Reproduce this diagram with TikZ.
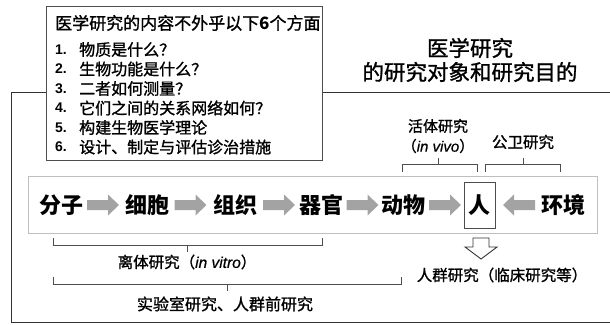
\documentclass[tikz,border=0pt]{standalone}
\usepackage{fontspec}
\newfontfamily\cjk{Noto Sans CJK SC}
\newfontfamily\cjkmed{Noto Sans CJK SC}[FakeBold=1.2]
\newfontfamily\lat{Liberation Sans}
\newfontfamily\latmed{Liberation Sans}[FakeBold=0.6]
\newfontfamily\latbold{Liberation Sans Bold}
\definecolor{arrowgray}{HTML}{A3A3A3}
\definecolor{bandgray}{HTML}{BFBFBF}
\definecolor{boxgray}{HTML}{4D4D4D}
\definecolor{linegray}{HTML}{333333}
\tikzset{
  frame/.style={draw=linegray, line width=0.9pt},
  brace/.style={draw=boxgray, line width=0.8pt},
  stage/.style={font=\cjk\bfseries\fontsize{22}{24}\selectfont, inner sep=0pt, anchor=center},
  listhead/.style={font=\cjkmed\fontsize{17}{19}\selectfont, inner sep=0pt, anchor=west},
  listnum/.style={font=\latbold\fontsize{14}{16}\selectfont, inner sep=0pt, anchor=west},
  listtxt/.style={font=\cjkmed\fontsize{16}{18}\selectfont, inner sep=0pt, anchor=west},
  titletxt/.style={font=\cjkmed\fontsize{21.5}{24}\selectfont, inner sep=0pt, anchor=center},
  label/.style={font=\cjkmed\fontsize{15.5}{18}\selectfont, inner sep=0pt, anchor=center},
  garr/.pic={\fill[arrowgray] (0,-5) -- (21,-5) -- (21,-10.5) -- (32,0) -- (21,10.5) -- (21,5) -- (0,5) -- cycle;}
}
\begin{document}
\begin{tikzpicture}[x=1pt,y=-1pt]
\useasboundingbox (0,0) rectangle (610,324);
% outer frame lines
\draw[frame] (46,92) -- (11.5,92) -- (11.5,322.5) -- (610,322.5);
\draw[frame] (322,92) -- (610,92);
% list box
\node[draw=boxgray, line width=0.9pt, fill=white, minimum width=276pt, minimum height=154pt, anchor=north west, inner sep=0pt] (box) at (46,6) {};
\node[listhead] (lh) at (55,23) {医学研究的内容不外乎以下{\cjk\bfseries 6}个方面};
\foreach \n/\t [count=\i from 0] in {1/物质是什么？,2/生物功能是什么？,3/二者如何测量？,4/它们之间的关系网络如何？,5/构建生物医学理论,6/设计、制定与评估诊治措施}{
  \node[listnum] (n\n) at (55,{49.5+19.5*\i}) {\n.};
  \node[listtxt] (t\n) at (79,{49.5+19.5*\i}) {\t};
}
% title
\node[titletxt] (title1) at (470,48) {医学研究};
\node[titletxt] (title2) at (470,72) {的研究对象和研究目的};
% band
\node[draw=bandgray, line width=0.9pt, minimum width=569pt, minimum height=57pt, anchor=north west, inner sep=0pt] (band) at (28,176) {};
\node[stage] (fz) at (61,205) {分子};
\node[stage] (xb) at (147,205) {细胞};
\node[stage] (zz) at (235.5,205) {组织};
\node[stage] (qg) at (321,205) {器官};
\node[stage] (dw) at (403,205) {动物};
\node[stage, draw=boxgray, line width=0.9pt, minimum width=31pt, minimum height=46pt] (ren) at (479.5,205) {人};
\node[stage] (hj) at (563,205) {环境};
\pic at (87,205) {garr};
\pic at (174.5,205) {garr};
\pic at (263,205) {garr};
\pic at (346.5,205) {garr};
\pic at (429,205) {garr};
\pic[xscale=-1] at (535,205) {garr};
% upper braces
\draw[brace] (402,172) -- (402,164.5) -- (477,164.5) -- (477,172);
\draw[brace] (438,164.5) -- (438,157.5);
\draw[brace] (485,172) -- (485,164.5) -- (560,164.5) -- (560,172);
\draw[brace] (523,164.5) -- (523,157.5);
\node[label, font=\cjkmed\fontsize{15}{17}\selectfont] (hti) at (438,126) {活体研究};
\node[label, font=\cjkmed\fontsize{15}{17}\selectfont] (htv) at (438,146) {（{\latmed\itshape in vivo}）};
\node[label, font=\cjkmed\fontsize{15.5}{17}\selectfont] (gw) at (523,142) {公卫研究};
% lower braces
\draw[brace] (53,238) -- (53,245) -- (322,245) -- (322,238);
\draw[brace] (187,245) -- (187,252);
\node[label] (lt) at (187,262) {离体研究（{\latmed\itshape in vitro}）};
\draw[brace] (53,277) -- (53,284) -- (401,284) -- (401,277);
\draw[brace] (227,284) -- (227,291);
\node[label, font=\cjkmed\fontsize{16}{18}\selectfont] (sy) at (225,304) {实验室研究、人群前研究};
% hollow arrow under ren
\draw[draw=linegray, line width=0.9pt, fill=white] (473,238) -- (489,238) -- (489,247) -- (497,247) -- (481,259) -- (465,247) -- (473,247) -- cycle;
\node[label] (rq) at (502,275) {人群研究（临床研究等）};
\end{tikzpicture}
\end{document}
